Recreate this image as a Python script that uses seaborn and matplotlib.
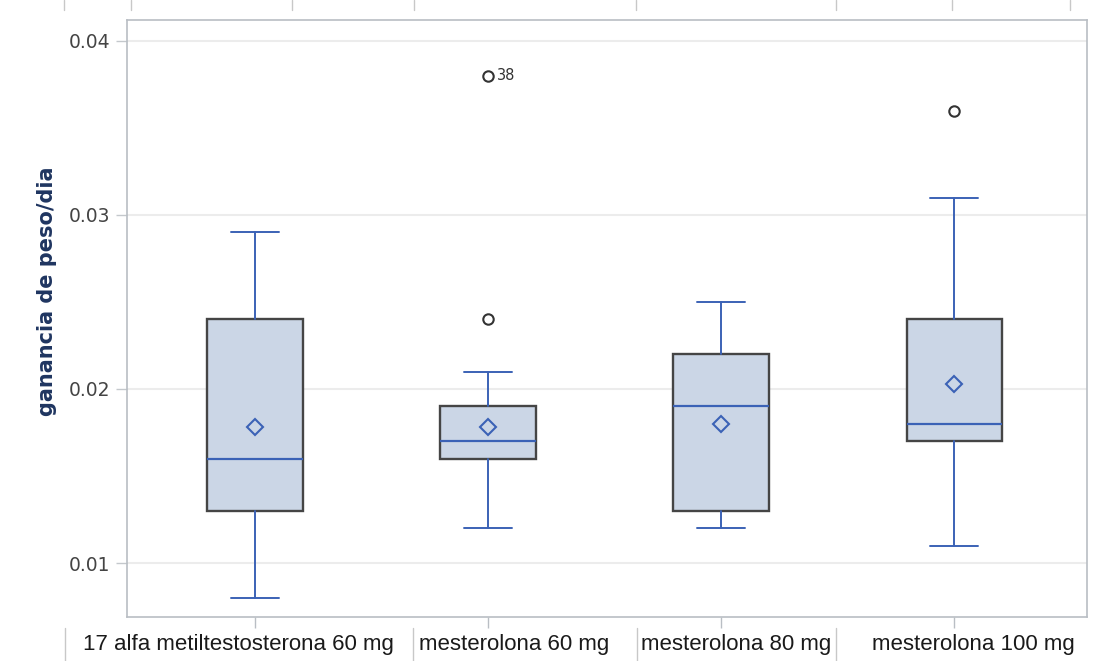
import matplotlib
matplotlib.use('Agg')
import matplotlib.pyplot as plt
from matplotlib.lines import Line2D
from matplotlib.transforms import ScaledTranslation
import seaborn as sns

# summary statistics
groups = ['17 alfa metiltestosterona 60 mg', 'mesterolona 60 mg',
          'mesterolona 80 mg', 'mesterolona 100 mg']
whisker_low = [0.008, 0.012, 0.012, 0.011]
q1 = [0.013, 0.016, 0.013, 0.017]
median = [0.016, 0.017, 0.019, 0.018]
q3 = [0.024, 0.019, 0.022, 0.024]
whisker_high = [0.029, 0.021, 0.025, 0.031]
means = [0.0178, 0.0178, 0.0180, 0.0203]
outliers = [[], [0.024, 0.038], [], [0.036]]
outlier_labels = {(1, 0.038): '38'}

sns.set_theme(style='white')
plt.rcParams['font.family'] = ['DejaVu Sans']

box_fill = '#cbd6e6'
box_edge = '#454545'
blue = '#3b62b6'

stats = []
for i, g in enumerate(groups):
    stats.append({'label': g, 'whislo': whisker_low[i], 'q1': q1[i], 'med': median[i],
                  'q3': q3[i], 'whishi': whisker_high[i], 'mean': means[i],
                  'fliers': outliers[i]})

fig = plt.figure(figsize=(10.97, 6.61), dpi=100)
ax = fig.add_axes([0.1158, 0.0666, 0.8752, 0.9031])

ax.bxp(stats, positions=range(len(groups)), widths=0.41, patch_artist=True,
       showmeans=True,
       boxprops=dict(facecolor=box_fill, edgecolor=box_edge, linewidth=1.7),
       whiskerprops=dict(color=blue, linewidth=1.4),
       capprops=dict(color=blue, linewidth=1.4),
       medianprops=dict(color=blue, linewidth=1.6),
       meanprops=dict(marker='D', markerfacecolor='none', markeredgecolor=blue,
                      markeredgewidth=1.5, markersize=8),
       flierprops=dict(marker='o', markerfacecolor='none', markeredgecolor='#333333',
                       markeredgewidth=1.5, markersize=7.5))

for (i, v), lab in outlier_labels.items():
    ax.annotate(lab, (i, v), xytext=(6, 0), textcoords='offset points',
                va='center', ha='left', fontsize=10.5, color='#333333')

ax.set_xlim(-0.55, 3.57)
ax.set_ylim(0.0069, 0.0412)
ax.set_yticks([0.01, 0.02, 0.03, 0.04])
ax.set_yticklabels(['0.01', '0.02', '0.03', '0.04'])
ax.yaxis.grid(True, color='#ececec', linewidth=1.5)
ax.set_axisbelow(True)

for s in ax.spines.values():
    s.set_color('#b9bec4')
    s.set_linewidth(1.2)

ax.tick_params(axis='y', left=True, length=8, width=1, color='#c4c8cc',
               labelsize=13.5, labelcolor='#444444', pad=4)
ax.tick_params(axis='x', bottom=True, length=8, width=1, color='#b9bec4', pad=4, direction='out')
ax.set_xticks(range(len(groups)))
ax.set_xticklabels(groups, fontsize=16, color='#1a1a1a', family='Liberation Sans')
# the source labels sit slightly off their ticks
label_shift = [-17, 26, 15, 19]
for lab, dx in zip(ax.get_xticklabels(), label_shift):
    lab.set_transform(lab.get_transform() + ScaledTranslation(dx / 100, 0, fig.dpi_scale_trans))

ax.set_ylabel('ganancia de peso/dia', fontsize=15, fontweight='bold', color='#1f3560')
ax.yaxis.set_label_coords(-0.073, 0.545)

# column separators left over from the source table layout
for x in [65, 413, 637, 836]:
    fig.add_artist(Line2D([x / 1097, x / 1097], [0, 33 / 661], color='#c8c8c8', linewidth=1))
for x in [64, 131, 292, 414, 636, 836, 952, 1070]:
    fig.add_artist(Line2D([x / 1097, x / 1097], [1, 1 - 10 / 661], color='#c8c8c8', linewidth=1))

fig.savefig('out.png', dpi=100)
